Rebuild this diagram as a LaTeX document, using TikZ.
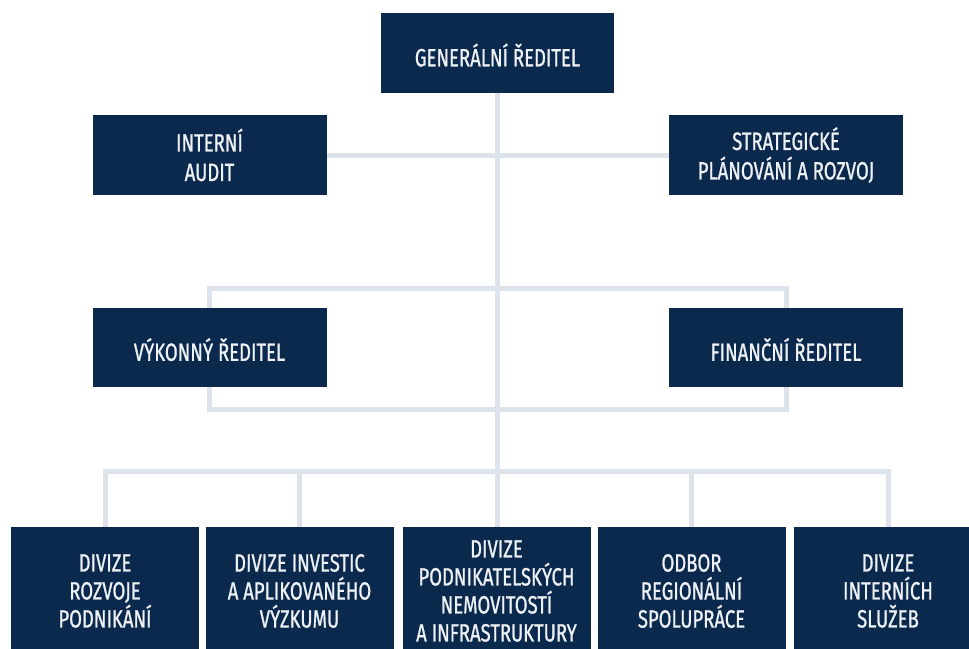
\documentclass[tikz,border=0pt]{standalone}
\usepackage{fontspec}
\setmainfont[FakeStretch=0.74,FakeBold=0.9]{Fira Sans}
\usetikzlibrary{backgrounds}
\definecolor{navy}{HTML}{0B294D}
\definecolor{linkc}{HTML}{DDE3EB}
\definecolor{boxtext}{HTML}{EEF1F5}
\tikzset{
  box/.style={fill=navy, text=boxtext, align=center, inner sep=0pt,
    minimum width=234pt, minimum height=80pt,
    execute at begin node={\rule{0pt}{27pt}},
    font=\fontsize{25}{29.5}\selectfont},
  unit/.style={box, minimum width=188pt, minimum height=128pt,
    font=\fontsize{25}{28}\selectfont},
  link/.style={draw=linkc, line width=5pt}
}
\begin{document}
\begin{tikzpicture}[x=1pt,y=-1pt]
\useasboundingbox (0,0) rectangle (969,648);
\clip (0,0) rectangle (969,648);
\node[box, minimum width=233pt] (GR) at (497.5,53) {GENERÁLNÍ ŘEDITEL};
\node[box] (IA) at (209.5,155) {INTERNÍ\\AUDIT};
\node[box] (SP) at (786,155) {STRATEGICKÉ\\PLÁNOVÁNÍ A ROZVOJ};
\node[box, minimum height=79pt] (VR) at (209.5,347.5) {VÝKONNÝ ŘEDITEL};
\node[box, minimum height=79pt] (FR) at (786,347.5) {FINANČNÍ ŘEDITEL};
\node[unit] (B1) at (105,591) {DIVIZE\\ROZVOJE\\PODNIKÁNÍ};
\node[unit] (B2) at (299.5,591) {DIVIZE INVESTIC\\A APLIKOVANÉHO\\VÝZKUMU};
\node[unit] (B3) at (496.5,591) {DIVIZE\\PODNIKATELSKÝCH\\NEMOVITOSTÍ\\A INFRASTRUKTURY};
\node[unit] (B4) at (691.5,591) {ODBOR\\REGIONÁLNÍ\\SPOLUPRÁCE};
\node[unit] (B5) at (888,591) {DIVIZE\\INTERNÍCH\\SLUŽEB};
\coordinate (top) at (497,288);
\coordinate (bot) at (497,409);
\coordinate (bus) at (497,471);
\begin{scope}[on background layer]
\fill[white] (0,0) rectangle (969,648);
\draw[link] (GR.south -| top) -- (top |- B3.north);
\draw[link] (IA.center) -- (SP.center);
\draw[link] (VR.center) |- (top) -| (FR.center) |- (bot) -| (VR.center) -- cycle;
\draw[link] (B1.north) |- (bus) -| (B5.north);
\draw[link] (B2.north) -- (B2.north |- bus);
\draw[link] (B4.north) -- (B4.north |- bus);
\end{scope}
\end{tikzpicture}
\end{document}
